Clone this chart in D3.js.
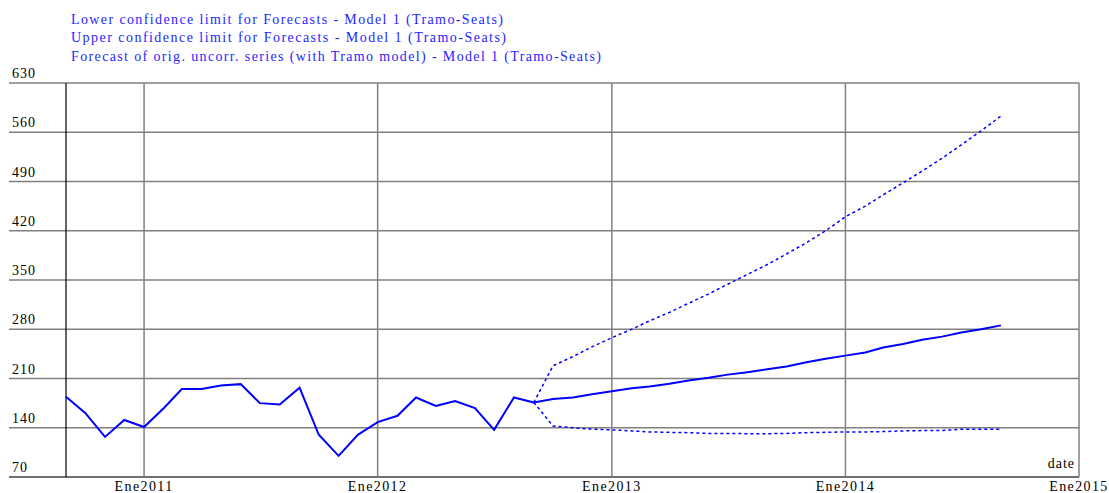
<!DOCTYPE html>
<html>
<head>
<meta charset="utf-8">
<script src="https://cdn.jsdelivr.net/npm/d3@7"></script>
<style>
  body { margin: 0; background: #fff; }
  text { font-family: "Liberation Serif", "Times New Roman", serif; }
</style>
</head>
<body>
<svg></svg>
<script>
// monthly values, first one is Sep 2010
const firstMonth = new Date(2010, 8, 1);

// observed series Sep 2010 .. Sep 2012
const observed = [184, 161, 127, 151, 141, 168, 195, 195, 200, 202, 175, 173, 197,
                  130, 100, 130, 148, 157, 183, 171, 178, 168, 137, 183, 176];

// forecasts Oct 2012 .. Sep 2014
const forecast = [181, 183, 187.5, 192, 196, 198.5, 202.5, 207, 211, 215.5, 219, 223,
                  227, 233, 238, 242.5, 247, 254, 259, 265, 269.5, 275.5, 280, 285.5];
const upper = [228, 241, 255, 268, 280, 292, 304, 317, 330, 344, 358, 372,
               387, 403, 420, 440, 455, 471, 488, 505, 523, 542, 562, 583];
const lower = [142.5, 140, 138, 137, 135.5, 134, 133.5, 133, 132, 132, 131.5, 131.5,
               132, 133, 133.5, 134, 134, 134.5, 135.5, 136, 136, 138, 138, 138];

const legendLabels = [
    "Lower confidence limit for Forecasts - Model 1 (Tramo-Seats)",
    "Upper confidence limit for Forecasts - Model 1 (Tramo-Seats)",
    "Forecast of orig. uncorr. series (with Tramo model) - Model 1 (Tramo-Seats)"
];
const legendWidths = [432, 435, 530];
const yTicks = [70, 140, 210, 280, 350, 420, 490, 560, 630];
const xTickYears = [2011, 2012, 2013, 2014, 2015];

var width = 1109;
var height = 493;
var blue = "#0000ff";
var grey = "#808080";

var svg = d3.select("svg").attr("width", width).attr("height", height);

var xScale = d3.scaleTime()
    .domain([firstMonth, new Date(2015, 0, 1)])
    .range([66, 1079]);
var yScale = d3.scaleLinear().domain([70, 630]).range([477, 83]);

function month(i) { return d3.timeMonth.offset(firstMonth, i); }

var nObs = observed.length;
var solidData = observed.concat(forecast).map((v, i) => ({ d: month(i), v: v }));
// confidence limits start from the last observed point
var upperData = [observed[nObs - 1]].concat(upper).map((v, i) => ({ d: month(nObs - 1 + i), v: v }));
var lowerData = [observed[nObs - 1]].concat(lower).map((v, i) => ({ d: month(nObs - 1 + i), v: v }));

var line = d3.line().x(p => xScale(p.d)).y(p => yScale(p.v));

// horizontal grid lines, running under the value labels
yTicks.forEach((t) => {
    svg.append("line")
        .attr("x1", 9).attr("x2", xScale.range()[1])
        .attr("y1", yScale(t)).attr("y2", yScale(t))
        .attr("stroke", t == 70 ? "#404040" : grey)
        .attr("stroke-width", 1.5);
    svg.append("text")
        .attr("x", 12).attr("y", yScale(t) - 5)
        .attr("font-size", 14).attr("letter-spacing", 1)
        .attr("fill", "#000")
        .text(t);
});

// vertical grid lines at each January
xTickYears.forEach((yr) => {
    var x = xScale(new Date(yr, 0, 1));
    svg.append("line")
        .attr("x1", x).attr("x2", x)
        .attr("y1", yScale(630)).attr("y2", yScale(70))
        .attr("stroke", grey)
        .attr("stroke-width", 1.5);
    svg.append("text")
        .attr("x", x).attr("y", 491)
        .attr("text-anchor", "middle")
        .attr("font-size", 14).attr("letter-spacing", 1.4)
        .attr("fill", "#000")
        .text("Ene" + yr);
});

// left frame line
svg.append("line")
    .attr("x1", xScale.range()[0]).attr("x2", xScale.range()[0])
    .attr("y1", yScale(630)).attr("y2", yScale(70))
    .attr("stroke", "#000").attr("stroke-width", 1.2);

svg.append("text")
    .attr("x", 1075).attr("y", 468)
    .attr("text-anchor", "end")
    .attr("font-size", 14).attr("letter-spacing", 1)
    .text("date");

svg.append("path")
    .attr("d", line(upperData))
    .attr("fill", "none").attr("stroke", blue)
    .attr("stroke-width", 1.5).attr("stroke-dasharray", "3,3");

svg.append("path")
    .attr("d", line(lowerData))
    .attr("fill", "none").attr("stroke", blue)
    .attr("stroke-width", 1.5).attr("stroke-dasharray", "3,3");

svg.append("path")
    .attr("d", line(solidData))
    .attr("fill", "none").attr("stroke", blue)
    .attr("stroke-width", 2);

// legend (text only)
legendLabels.forEach((label, i) => {
    svg.append("text")
        .attr("x", 71).attr("y", 24 + i * 18.3)
        .attr("font-size", 14)
        .attr("fill", "#1f1fff")
        .attr("textLength", legendWidths[i])
        .attr("lengthAdjust", "spacing")
        .text(label);
});
</script>
</body>
</html>
